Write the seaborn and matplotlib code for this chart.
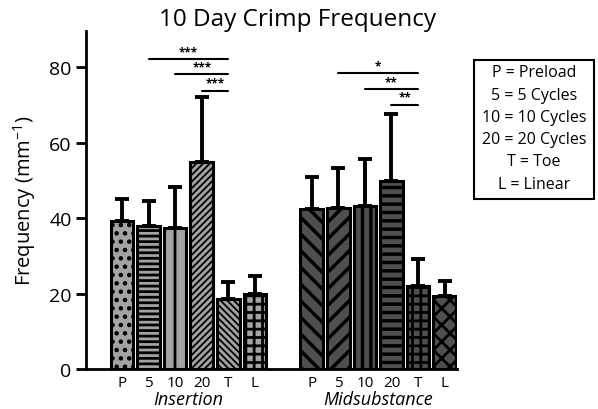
import numpy as np
import pandas as pd
import seaborn as sns
import matplotlib.pyplot as plt
from matplotlib.patches import Rectangle

groups = ['Insertion', 'Midsubstance']
conditions = ['P', '5', '10', '20', 'T', 'L']
insertion_mean = [39.3, 37.8, 37.3, 54.8, 18.6, 19.9]
insertion_err = [5.8, 6.7, 10.9, 17.2, 4.4, 4.8]
midsub_mean = [42.4, 42.8, 43.3, 49.7, 21.9, 19.3]
midsub_err = [8.6, 10.4, 12.4, 17.9, 7.3, 4.1]

# significance brackets: (group, from condition, to condition, height, label)
sig_group = ['Insertion', 'Insertion', 'Insertion', 'Midsubstance', 'Midsubstance', 'Midsubstance']
sig_from = ['5', '10', '20', '5', '10', '20']
sig_to = ['T', 'T', 'T', 'T', 'T', 'T']
sig_y = [82.2, 78.2, 73.8, 78.5, 74.3, 70.1]
sig_label = ['***', '***', '***', '*', '**', '**']

legend_lines = ['P = Preload', '5 = 5 Cycles', '10 = 10 Cycles',
                '20 = 20 Cycles', 'T = Toe', 'L = Linear']

group_colors = {'Insertion': '#a3a3a3', 'Midsubstance': '#4f4f4f'}
hatches = {'Insertion': ['..', '---', '|', '/////', '\\\\\\\\\\', '++'],
           'Midsubstance': ['\\\\', '//', '||', '--', '++', 'xx']}
hatch_lw = {'Insertion': [2.0, 2.0, 2.0, 1.3, 1.3, 2.0],
            'Midsubstance': [2.5, 2.5, 2.5, 2.5, 2.0, 2.0]}
group_gap = 7.14

sns.set_style('white')
plt.rcParams['font.family'] = ['Open Sans', 'DejaVu Sans']
plt.rcParams['mathtext.fontset'] = 'custom'
plt.rcParams['mathtext.rm'] = 'Open Sans'
plt.rcParams['hatch.linewidth'] = 2.0
for k in ['text.color', 'axes.labelcolor', 'xtick.color', 'ytick.color']:
    plt.rcParams[k] = 'black'

rows = []
for gi, (g, means, errs) in enumerate(zip(groups, [insertion_mean, midsub_mean],
                                           [insertion_err, midsub_err])):
    for ci, c in enumerate(conditions):
        rows.append({'group': g, 'cond': c, 'pos': ci + gi * group_gap,
                     'freq': means[ci], 'err': errs[ci]})
df = pd.DataFrame(rows)

fig = plt.figure(figsize=(5.98, 4.10), dpi=100)
ax = fig.add_axes([0.144, 0.0976, 0.62, 0.8244])

sns.barplot(data=df, x='pos', y='freq', hue='group', palette=group_colors,
            native_scale=True, width=0.85, legend=False, ax=ax,
            edgecolor='black', linewidth=2.2, zorder=2)

bars = sorted(ax.patches, key=lambda p: p.get_x())
for bar, (_, row) in zip(bars, df.sort_values('pos').iterrows()):
    i = conditions.index(row['cond'])
    bar.set_hatch(hatches[row['group']][i])
    if hasattr(bar, 'set_hatch_linewidth'):
        bar.set_hatch_linewidth(hatch_lw[row['group']][i])

# upper error bars only
ax.errorbar(df['pos'], df['freq'], yerr=[np.zeros(len(df)), df['err']],
            fmt='none', ecolor='black', elinewidth=2.8, capsize=5, capthick=2.8, zorder=1)

# significance brackets
for g, a, b, y, lab in zip(sig_group, sig_from, sig_to, sig_y, sig_label):
    off = groups.index(g) * group_gap
    x1 = conditions.index(a) + off
    x2 = conditions.index(b) + off
    ax.plot([x1, x2], [y, y], color='black', lw=1.5)
    ax.text((x1 + x2) / 2, y + 0.2, lab, ha='center', va='bottom', fontsize=8.5,
            fontweight='bold')

ax.set_xlim(-1.35, 12.6)
ax.set_ylim(0, 89.6)
ax.set_yticks([0, 20, 40, 60, 80])
ax.set_xticks(df['pos'])
ax.set_xticklabels(df['cond'])
ax.tick_params(axis='x', length=0, labelsize=11, pad=4)
ax.tick_params(axis='y', length=7, width=2, labelsize=14, direction='out', left=True)
for s in ['top', 'right']:
    ax.spines[s].set_visible(False)
for s in ['left', 'bottom']:
    ax.spines[s].set_linewidth(2)
    ax.spines[s].set_color('black')
ax.set_xlabel('')
ax.set_ylabel('Frequency (mm$^{-1}$)', fontsize=14.5, labelpad=8)

for gi, g in enumerate(groups):
    ax.text(2.5 + gi * group_gap, -0.09, g, transform=ax.get_xaxis_transform(),
            ha='center', va='center', fontsize=13, style='italic')

fig.text(0.497, 0.952, '10 Day Crimp Frequency', ha='center', va='center', fontsize=17.5)

# key box at the right of the canvas
box = Rectangle((474 / 598, 1 - 200 / 410), 120 / 598, 139 / 410,
                transform=fig.transFigure, fc='white', ec='black', lw=1.5, zorder=0)
fig.add_artist(box)
fig.text(534 / 598, 1 - 129 / 410, '\n'.join(legend_lines), ha='center', va='center',
         fontsize=11.5, linespacing=1.52, zorder=1)

fig.savefig('out.png', dpi=100)
